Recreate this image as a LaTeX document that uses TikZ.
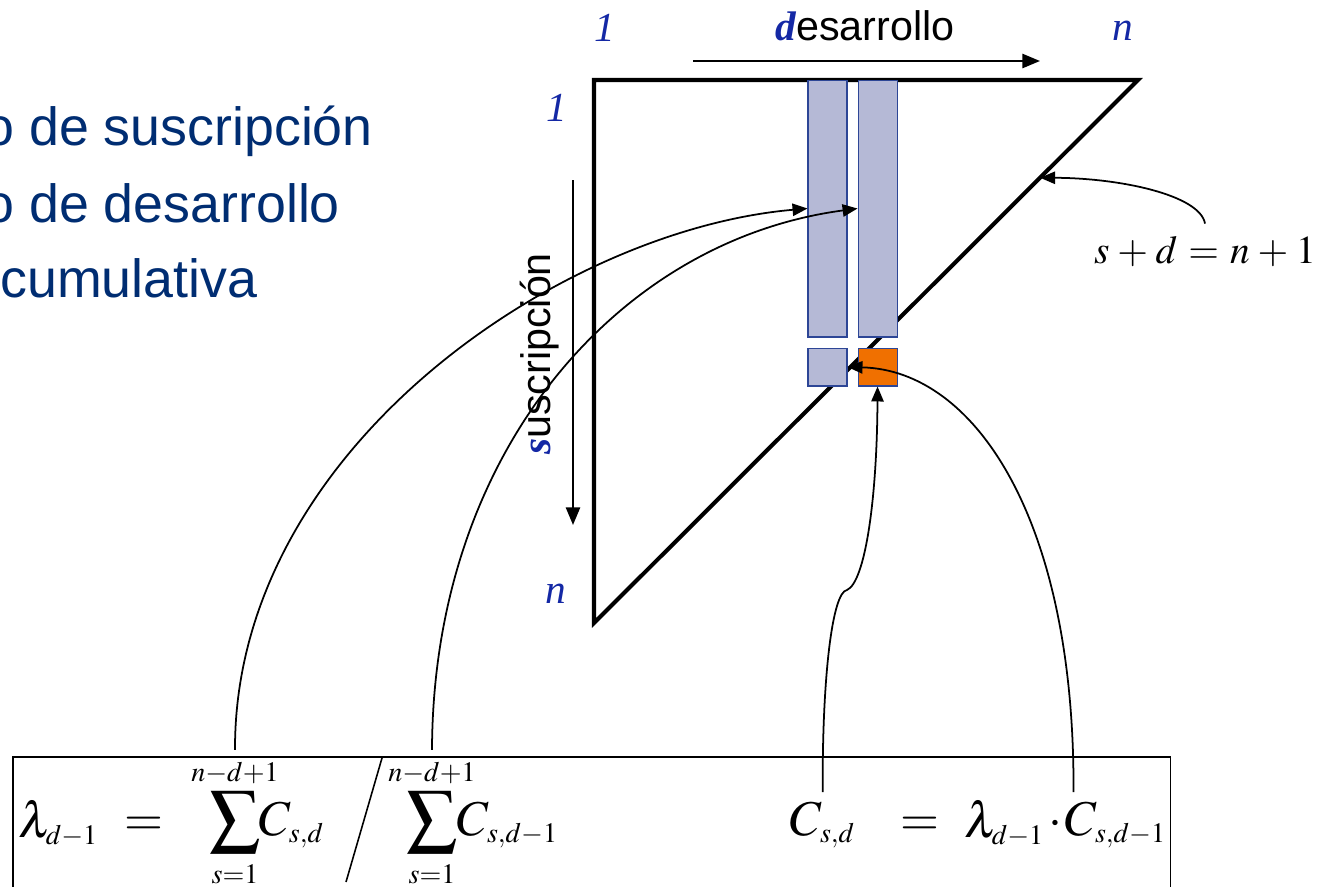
\documentclass[tikz,border=0pt]{standalone}
\usepackage{mathptmx}
\usepackage[no-math]{fontspec}
\setmainfont{Liberation Sans}
\newfontfamily\tms{Liberation Serif}
\usetikzlibrary{positioning,arrows.meta}
\DeclareMathSizes{28.5}{28.5}{16}{12}
\DeclareMathSizes{22.5}{22.5}{15}{11}
\definecolor{navytext}{RGB}{0,45,114}
\definecolor{idxblue}{RGB}{20,40,165}
\definecolor{colfill}{RGB}{181,185,214}
\definecolor{colline}{RGB}{45,70,150}
\definecolor{cellorange}{RGB}{240,112,0}

\begin{document}
\begin{tikzpicture}[
  x=0.02cm, y=-0.02cm,
  node distance=0.2cm,
  bullet/.style={anchor=base west,inner sep=0,text=navytext,font=\fontsize{30.6}{36}\selectfont},
  axlbl/.style={inner sep=0,font=\fontsize{23.5}{28}\selectfont},
  idx/.style={text=idxblue,font=\tms\itshape\fontsize{23.5}{28}\selectfont},
  fml/.style={anchor=base west,inner sep=0,font=\fontsize{28.5}{34}\selectfont},
  col/.style={draw=colline,fill=colfill,line width=0.6pt,inner sep=0,minimum width=0.78cm,minimum height=5.14cm},
  cell/.style={col,minimum height=0.76cm},
  flow/.style={-{Triangle[length=10pt,width=8pt]},line width=1.3pt},
  link/.style={-{Triangle[length=8.5pt,width=7pt]},line width=1pt}
]
  \useasboundingbox (0,0) rectangle (1328,886);

  % texto de la lamina
  \node[bullet] (b1) at (-16,145) {o de suscripción};
  \node[bullet] (b2) at (-16,222) {o de desarrollo};
  \node[bullet] (b3) at (0,297) {cumulativa};

  % triangulo de desarrollo
  \coordinate (tl) at (594,80);
  \coordinate (tr) at (1138,80);
  \coordinate (bl) at (594,623);
  \draw[line width=2.3pt,miter limit=10] (tl) -- (tr) -- (bl) -- cycle;
  \path (tr) -- (bl) coordinate[pos=0.18] (hit);

  \node[idx] (d1) at (605,28) {1};
  \node[idx] (dn) at (1123,31) {n};
  \node[idx] (s1) at (557,108) {1};
  \node[idx] (sn) at (556,594) {n};

  \node[axlbl,anchor=base] (devlbl) at (865,40) {{\tms\bfseries\itshape\color{idxblue}d}esarrollo};
  \coordinate (dstart) at (693,61);
  \coordinate (dend) at (1040,61);
  \draw[flow] (dstart) -- (dend);

  \node[axlbl,rotate=90,anchor=base] (suslbl) at (550,354) {{\tms\bfseries\itshape\color{idxblue}s}uscripción};
  \coordinate (sstart) at (573,180);
  \coordinate (send) at (573,525);
  \draw[flow] (sstart) -- (send);

  % columnas
  \node[col] (colA) at (827.5,208.5) {};
  \node[col,right=of colA] (colB) {};
  \node[cell,below=of colA] (cellA) {};
  \node[cell,fill=cellorange,below=of colB] (cellB) {};

  \node[font=\fontsize{22.5}{26}\selectfont,anchor=base] (rule) at (1205,263)
    {$s\mskip1mu+\mskip1mu d\mskip1mu=\mskip1mu n\mskip1mu+\mskip1mu 1$};

  % formulas
  \node[draw,line width=0.9pt,inner sep=0,anchor=north west,minimum width=23.16cm,minimum height=4cm] (fbox) at (12,756) {};
  \node[fml] (lamL) at (18,837) {$\lambda_{d-1}$};
  \node[fml,anchor=base] (eqL) at (144,835) {$=$};
  \node[fml,anchor=base] (sumA) at (235,835) {$\displaystyle\sum_{s=1}^{n-d+1}$};
  \node[fml] (termA) at (259,835) {$C_{s,d}$};
  \draw[line width=0.9pt] (346,882) -- (382,758);
  \node[fml,anchor=base] (sumB) at (432,835) {$\displaystyle\sum_{s=1}^{n-d+1}$};
  \node[fml] (termB) at (457,835) {$C_{s,d-1}$};

  \node[fml] (cNew) at (790,835) {$C_{s,d}$};
  \node[fml,anchor=base] (eqR) at (920,835) {$=$};
  \node[fml] (lamR) at (964,837) {$\lambda_{d-1}$};
  \node[fml,anchor=base] (dotR) at (1055,835) {$\cdot$};
  \node[fml] (cOld) at (1065,835) {$C_{s,d-1}$};

  % conectores
  \draw[link] (rule.north) ++(0,-6) .. controls (1200,195) and (1120,178) .. (hit);
  \draw[link] ([yshift=4pt]sumA.north) .. controls (234,450) and (560,230) .. (colA.west);
  \draw[link] ([yshift=4pt]sumB.north) .. controls (433,450) and (620,240) .. (colB.west);
  \draw[link] ([yshift=5pt]cNew.north) .. controls (822,680) and (832,592) .. (847,590)
    .. controls (865,582) and (877,500) .. (cellB.south);
  \draw[link] ([xshift=0.17cm,yshift=5pt]cOld.north west) .. controls (1075,520) and (975,370) .. (cellA.east);
\end{tikzpicture}
\end{document}
